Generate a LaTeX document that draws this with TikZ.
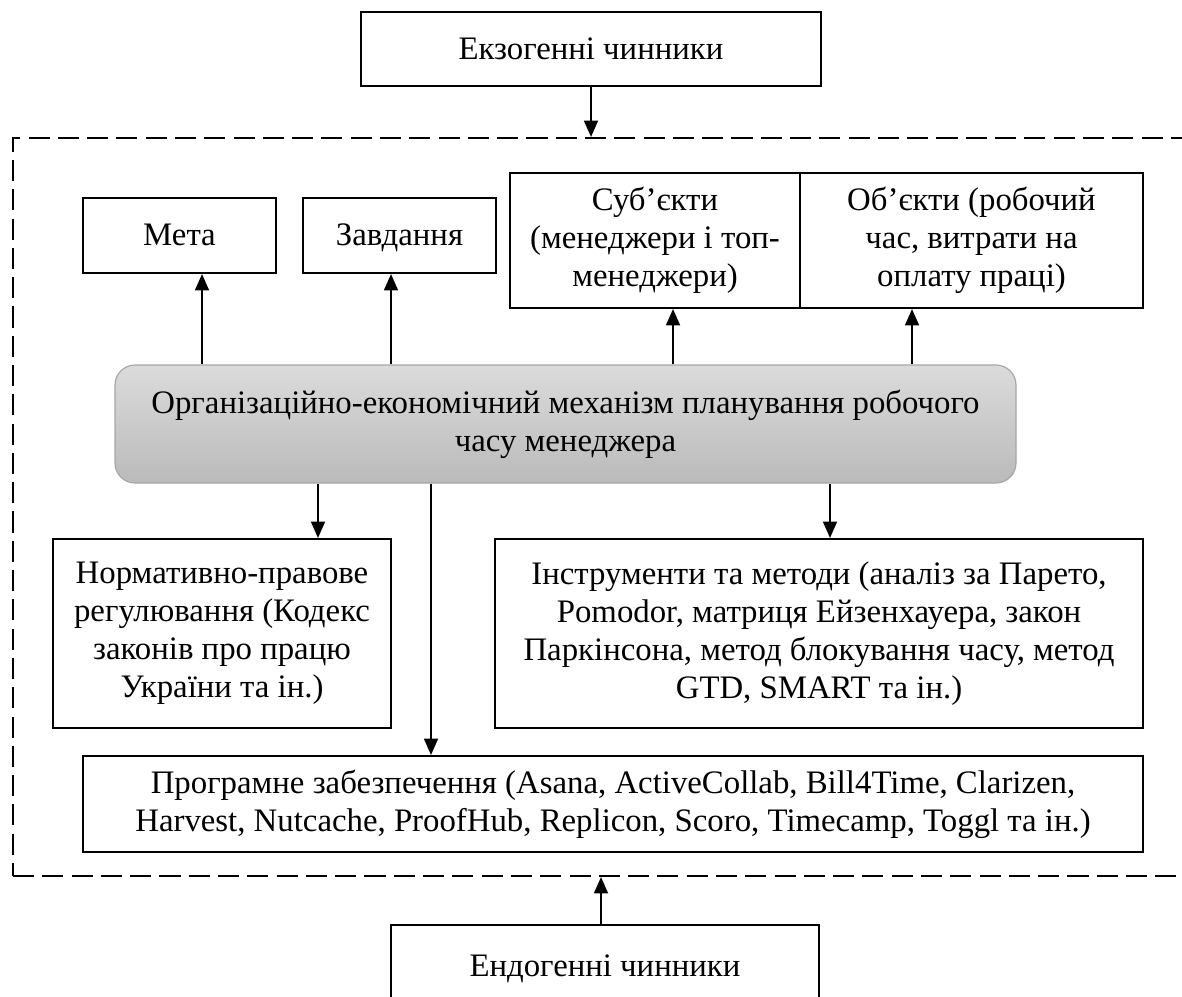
\documentclass[tikz,border=0pt]{standalone}
\usepackage{fontspec}
\setmainfont{Liberation Serif}
\usetikzlibrary{arrows.meta}

\newlength{\pxl}
\setlength{\pxl}{0.015cm}

\begin{document}
\begin{tikzpicture}[x=0.015cm, y=-0.015cm, >={Triangle[length=7pt, width=6pt]},
  box/.style={draw, line width=0.9pt, align=center, inner sep=2pt,
    font=\fontsize{14}{16.2}\selectfont},
  oneline/.style={text height=2.4ex, text depth=0.5ex},
  mechbox/.style={draw=black!35, line width=0.5pt, rounded corners=0.3cm,
    top color=black!14, bottom color=black!27, align=center, inner sep=2pt,
    font=\fontsize{14}{16.2}\selectfont},
  zone/.style={draw, line width=0.9pt, dash pattern=on 9pt off 3.5pt},
  link/.style={->, line width=0.7pt}]
  \useasboundingbox (0,0) rectangle (1182,996);

  % Dashed frame of the mechanism
  \node[zone, minimum width=1187\pxl, minimum height=738\pxl] (frame) at (606.5,507) {};

  % Outer factors
  \node[box, oneline, minimum width=460\pxl, minimum height=74\pxl] (exo) at (591,49) {Екзогенні чинники};
  \node[box, oneline, minimum width=428\pxl, minimum height=82\pxl] (endo) at (605,966) {Ендогенні чинники};

  % Upper row
  \node[box, oneline, minimum width=193\pxl, minimum height=75\pxl] (meta) at (179.5,235.5) {Мета};
  \node[box, oneline, minimum width=193\pxl, minimum height=75\pxl] (tasks) at (399.5,235.5) {Завдання};
  \node[box, minimum width=290\pxl, minimum height=135\pxl] (subj) at (655,240.5)
    {Суб’єкти\\(менеджери і топ-\\менеджери)};
  \node[box, minimum width=343\pxl, minimum height=135\pxl] (obj) at (971.5,240.5)
    {Об’єкти (робочий\\час, витрати на\\оплату праці)};

  % Mechanism
  \node[mechbox, minimum width=901\pxl, minimum height=118\pxl] (mech) at (565.5,424)
    {Організаційно-економічний механізм планування робочого\\часу менеджера};

  % Lower rows
  \node[box, minimum width=338\pxl, minimum height=189\pxl] (norm) at (222,633.5)
    {Нормативно-правове\\регулювання (Кодекс\\законів про працю\\України та ін.)};
  \node[box, minimum width=648\pxl, minimum height=189\pxl] (tools) at (819,633.5)
    {Інструменти та методи (аналіз за Парето,\\Pomodor, матриця Ейзенхауера, закон\\Паркінсона, метод блокування часу, метод\\GTD, SMART та ін.)};
  \node[box, minimum width=1060\pxl, minimum height=96\pxl] (soft) at (613,804)
    {Програмне забезпечення (Asana, ActiveCollab, Bill4Time, Clarizen,\\Harvest, Nutcache, ProofHub, Replicon, Scoro, Timecamp, Toggl та ін.)};

  % Arrow positions
  \coordinate (xmeta) at (202,0);
  \coordinate (xtasks) at (391,0);
  \coordinate (xsubj) at (673,0);
  \coordinate (xobj) at (912,0);
  \coordinate (xnorm) at (318,0);
  \coordinate (xsoft) at (431,0);
  \coordinate (xtools) at (830,0);
  \coordinate (xendo) at (601,0);

  % Connectors
  \draw[link] (exo.south) -- (exo.south |- frame.north);
  \draw[link] (xendo |- endo.north) -- (xendo |- frame.south);
  \draw[link] (xmeta |- mech.north) -- (xmeta |- meta.south);
  \draw[link] (xtasks |- mech.north) -- (xtasks |- tasks.south);
  \draw[link] (xsubj |- mech.north) -- (xsubj |- subj.south);
  \draw[link] (xobj |- mech.north) -- (xobj |- obj.south);
  \draw[link] (xnorm |- mech.south) -- (xnorm |- norm.north);
  \draw[link] (xtools |- mech.south) -- (xtools |- tools.north);
  \draw[link] (xsoft |- mech.south) -- (xsoft |- soft.north);
\end{tikzpicture}
\end{document}
